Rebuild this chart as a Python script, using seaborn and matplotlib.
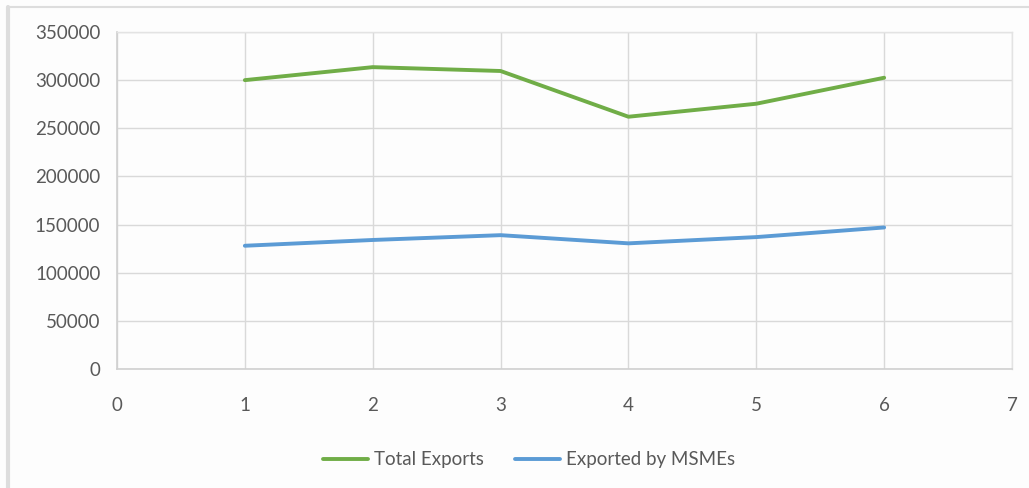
import matplotlib
matplotlib.use("Agg")
import matplotlib.pyplot as plt
import matplotlib.lines as mlines
import seaborn as sns
import pandas as pd

# Export values per period
periods = [1, 2, 3, 4, 5, 6]
total_exports = [300000, 313500, 309500, 262000, 275500, 302500]
msme_exports = [128000, 134000, 139000, 130500, 137000, 147000]
series_names = ["Total Exports", "Exported by MSMEs"]
series_colors = ["#70ad47", "#5b9bd5"]
y_ticks = [0, 50000, 100000, 150000, 200000, 250000, 300000, 350000]
x_ticks = [0, 1, 2, 3, 4, 5, 6, 7]

df = pd.DataFrame({
    "period": periods * 2,
    "value": total_exports + msme_exports,
    "series": [series_names[0]] * len(periods) + [series_names[1]] * len(periods),
})

sns.set_theme(style="white")
plt.rcParams["font.family"] = ["Lato", "DejaVu Sans"]

fig = plt.figure(figsize=(10.29, 4.88), dpi=100, facecolor="#fdfdfd")
ax = fig.add_axes([117 / 1029, 1 - 369 / 488, (1012 - 117) / 1029, (369 - 32) / 488])
ax.set_facecolor("#fdfdfd")

sns.lineplot(data=df, x="period", y="value", hue="series", hue_order=series_names,
             palette=series_colors, linewidth=2.8, ax=ax, legend=False)

ax.set_xlim(0, 7)
ax.set_ylim(0, 350000)
ax.set_xticks(x_ticks)
ax.set_yticks(y_ticks)
ax.set_xticklabels([str(t) for t in x_ticks])
ax.set_yticklabels([str(t) for t in y_ticks])
ax.grid(True, color="#d9d9d9", linewidth=1.0)
ax.set_axisbelow(True)
for side, sp in ax.spines.items():
    if side in ("left", "bottom"):
        sp.set_color("#d0d0d0")
        sp.set_linewidth(1.2)
    else:
        sp.set_color("#e3e3e3")
        sp.set_linewidth(1.0)
ax.tick_params(axis="both", length=0, labelsize=13.5, labelcolor="#595959")
ax.tick_params(axis="x", pad=20)
ax.tick_params(axis="y", pad=12)
ax.set_xlabel("")
ax.set_ylabel("")

handles = [mlines.Line2D([], [], color=c, linewidth=2.8, label=n)
           for n, c in zip(series_names, series_colors)]
leg = fig.legend(handles=handles, loc="center", bbox_to_anchor=(529 / 1029, 1 - 460 / 488),
                 ncol=2, frameon=False, fontsize=13.5, handlelength=2.4,
                 columnspacing=1.7, handletextpad=0.3)
for t in leg.get_texts():
    t.set_color("#595959")

# Outer chart-area frame (top and left edges)
fig.add_artist(mlines.Line2D([8 / 1029, 1], [1 - 7 / 488, 1 - 7 / 488],
                             transform=fig.transFigure, color="#dddddd", linewidth=1.5))
fig.add_artist(mlines.Line2D([8 / 1029, 8 / 1029], [0, 1 - 7 / 488],
                             transform=fig.transFigure, color="#dddddd", linewidth=3))

fig.savefig("out.png", dpi=100, facecolor=fig.get_facecolor())
